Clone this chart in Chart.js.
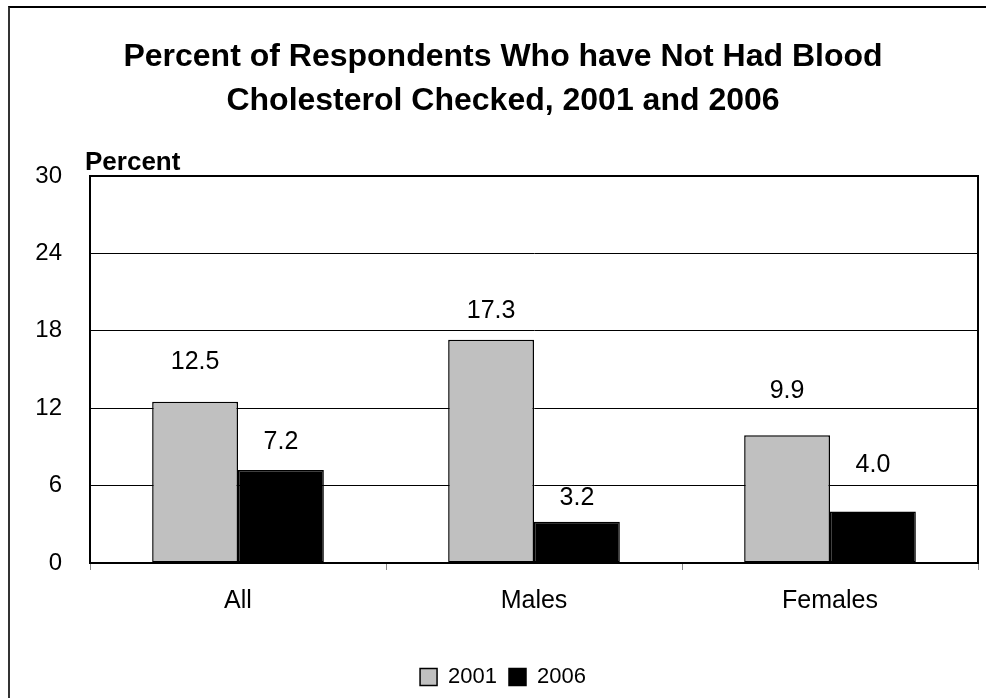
<!DOCTYPE html>
<html>
<head>
<meta charset="utf-8">
<script src="https://cdn.jsdelivr.net/npm/chart.js@4"></script>
<style>
  html, body { margin: 0; padding: 0; background: #fff; }
  #wrap { position: relative; width: 986px; height: 698px; overflow: hidden; }
  #frame { position: absolute; left: 8px; top: 6px; width: 1000px; height: 1000px;
           border-left: 2px solid #333; border-top: 2px solid #000; }
  canvas { position: absolute; left: 0; top: 0; }
</style>
</head>
<body>
<div id="wrap">
  <div id="frame"></div>
  <canvas id="chart" width="986" height="698"></canvas>
</div>
<script>
const categories = ["All", "Males", "Females"];
const years = ["2001", "2006"];
const values2001 = [12.5, 17.3, 9.9];
const values2006 = [7.2, 3.2, 4.0];
const yTicks = [0, 6, 12, 18, 24, 30];

const FONT = "'Liberation Sans', Arial, Helvetica, sans-serif";

// pixel lift of each value label above its bar (Excel placed them unevenly)
const labelLift = [[40, 29, 44], [28, 24, 46]];

const framePlugin = {
    id: "framePlugin",
    afterDraw(chart) {
        const ctx = chart.ctx;
        const a = chart.chartArea;
        ctx.save();
        ctx.strokeStyle = "#000";
        ctx.lineWidth = 2;
        ctx.strokeRect(a.left, a.top, a.right - a.left, a.bottom - a.top);

        // "Percent" label above the axis
        ctx.fillStyle = "#000";
        ctx.font = "bold 26px " + FONT;
        ctx.textAlign = "left";
        ctx.textBaseline = "middle";
        ctx.fillText("Percent", a.left - 5, a.top - 13);

        // value labels
        ctx.font = "25px " + FONT;
        ctx.textAlign = "center";
        chart.data.datasets.forEach((ds, i) => {
            chart.getDatasetMeta(i).data.forEach((bar, j) => {
                ctx.fillText(ds.data[j].toFixed(1), bar.x, bar.y - labelLift[i][j]);
            });
        });
        ctx.restore();
    }
};

new Chart(document.getElementById("chart"), {
    type: "bar",
    data: {
        labels: categories,
        datasets: [{
            label: years[0],
            data: values2001,
            backgroundColor: "#c0c0c0",
            borderColor: "#000",
            borderWidth: 1.5,
            borderSkipped: false
        }, {
            label: years[1],
            data: values2006,
            backgroundColor: "#000",
            borderColor: "#000",
            borderWidth: 1.5,
            borderSkipped: false
        }]
    },
    options: {
        responsive: false,
        animation: false,
        layout: { padding: { left: 28, right: 8, top: 0, bottom: 0 } },
        datasets: { bar: { categoryPercentage: 0.58, barPercentage: 1.0 } },
        plugins: {
            title: {
                display: true,
                text: ["Percent of Respondents Who have Not Had Blood", "Cholesterol Checked, 2001 and 2006"],
                color: "#000",
                font: { family: FONT, size: 32, weight: "bold", lineHeight: 1.375 },
                padding: { top: 35, bottom: 53 }
            },
            legend: {
                position: "bottom",
                labels: {
                    color: "#000",
                    font: { family: FONT, size: 22 },
                    boxWidth: 17,
                    boxHeight: 17,
                    padding: 12
                }
            },
            tooltip: { enabled: false }
        },
        scales: {
            x: {
                grid: { drawOnChartArea: false, drawTicks: true, tickLength: 7, color: "#888", offset: true },
                border: { display: true, color: "#000", width: 2 },
                ticks: { color: "#000", font: { family: FONT, size: 25 }, padding: 16 },
                afterFit(scale) { scale.height = 91; }
            },
            y: {
                min: 0,
                max: 30,
                afterBuildTicks(scale) { scale.ticks = yTicks.map(v => ({ value: v })); },
                grid: { color: "#000", lineWidth: 1, drawTicks: false },
                border: { display: true, color: "#000", width: 2 },
                ticks: { color: "#000", font: { family: FONT, size: 24 }, padding: 28 },
                afterFit(scale) { scale.width = 62; }
            }
        }
    },
    plugins: [framePlugin]
});
</script>
</body>
</html>
